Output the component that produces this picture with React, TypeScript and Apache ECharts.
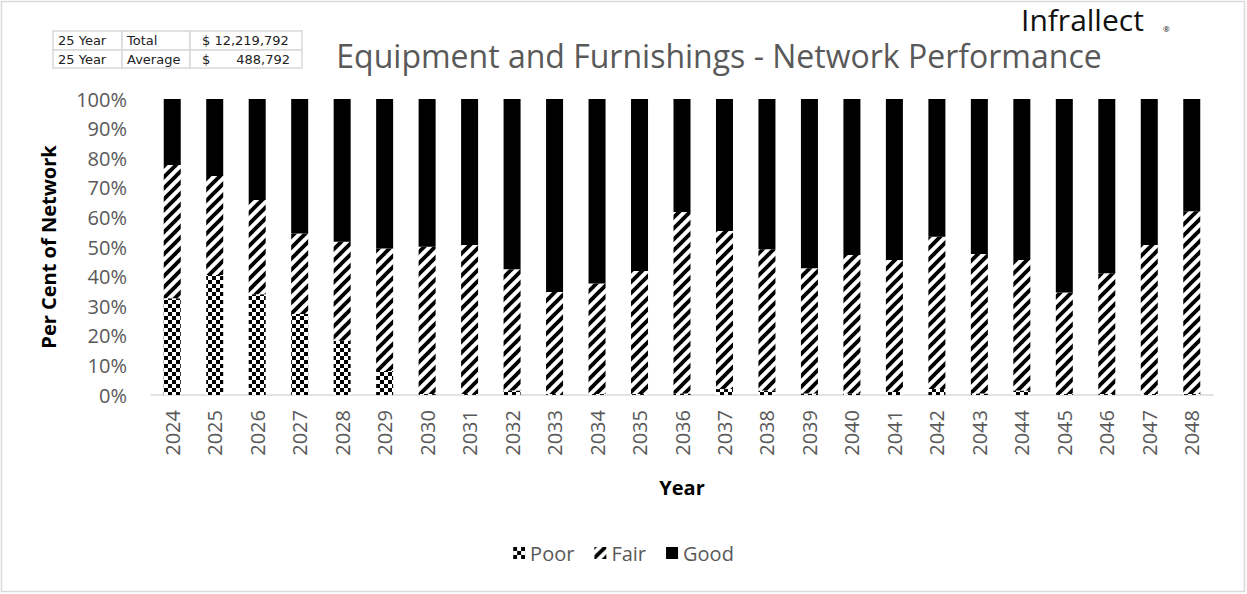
import React, { useEffect, useRef } from "react";
import * as echarts from "echarts";

const years = ["2024","2025","2026","2027","2028","2029","2030","2031","2032","2033","2034","2035","2036","2037","2038","2039","2040","2041","2042","2043","2044","2045","2046","2047","2048"];
const poor = [32.7, 40.5, 34.0, 27.4, 18.3, 8.1, 0.3, 0.3, 1.5, 0.3, 0.3, 0.3, 0.5, 2.0, 1.5, 0.5, 0.5, 1.0, 2.0, 0.5, 1.5, 0.3, 0.3, 0.3, 0.3];
const fair = [45.0, 33.5, 31.9, 27.2, 33.5, 41.4, 49.8, 50.4, 41.0, 34.5, 37.4, 41.6, 61.3, 53.4, 47.7, 42.3, 46.8, 44.6, 51.5, 47.1, 44.1, 34.3, 40.8, 50.4, 61.8];
const good = [22.3, 26.0, 34.1, 45.4, 48.2, 50.5, 49.9, 49.3, 57.5, 65.2, 62.3, 58.1, 38.2, 44.6, 50.8, 57.2, 52.7, 54.4, 46.5, 52.4, 54.4, 65.4, 58.9, 49.3, 37.9];
const yTicks = [0, 10, 20, 30, 40, 50, 60, 70, 80, 90, 100];
const tableRows = [
  ["25 Year", "Total", "$ 12,219,792", ""],
  ["25 Year", "Average", "$", "488,792"],
];

function makeChecker() {
  const c = document.createElement("canvas");
  c.width = 8; c.height = 8;
  const ctx = c.getContext("2d")!;
  ctx.fillStyle = "#fff"; ctx.fillRect(0, 0, 8, 8);
  ctx.fillStyle = "#000";
  ctx.fillRect(0, 0, 4, 4);
  ctx.fillRect(4, 4, 4, 4);
  return c;
}
function makeStripes() {
  const s = 11;
  const c = document.createElement("canvas");
  c.width = s; c.height = s;
  const ctx = c.getContext("2d")!;
  ctx.fillStyle = "#fff"; ctx.fillRect(0, 0, s, s);
  ctx.strokeStyle = "#000"; ctx.lineWidth = 3.8;
  const seg = (x1: number, y1: number, x2: number, y2: number) => { ctx.beginPath(); ctx.moveTo(x1, y1); ctx.lineTo(x2, y2); ctx.stroke(); };
  seg(-1, s + 1, s + 1, -1);
  seg(-s, s, s, -s);
  seg(0, 2 * s, 2 * s, 0);
  return c;
}

export default function App() {
  const ref = useRef<HTMLDivElement>(null);
  useEffect(() => {
    document.body.style.margin = "0";
    const chart = echarts.init(ref.current!, null, { renderer: "svg" });
    const checker = { image: makeChecker() as any, repeat: "repeat" as const };
    const stripes = { image: makeStripes() as any, repeat: "repeat" as const };
    const font = "'Open Sans', 'Noto Sans', sans-serif";
    const tableFont = "'DejaVu Sans', sans-serif";
    const colX = [53, 122, 190, 302];
    const rowY = [31, 50, 68];
    const tableGraphics: any[] = [];
    for (let r = 0; r < 2; r++) {
      for (let c = 0; c < 3; c++) {
        tableGraphics.push({ type: "rect", shape: { x: colX[c], y: rowY[r], width: colX[c + 1] - colX[c], height: rowY[r + 1] - rowY[r] }, style: { fill: "#fff", stroke: "#d9d9d9", lineWidth: 1.5 } });
      }
      const cy = (rowY[r] + rowY[r + 1]) / 2;
      const row = tableRows[r];
      tableGraphics.push({ type: "text", x: colX[0] + 5, y: cy, style: { text: row[0], font: `13px ${tableFont}`, fill: "#222", verticalAlign: "middle" } });
      tableGraphics.push({ type: "text", x: colX[1] + 5, y: cy, style: { text: row[1], font: `13px ${tableFont}`, fill: "#222", verticalAlign: "middle" } });
      tableGraphics.push({ type: "text", x: colX[2] + 12, y: cy, style: { text: row[2], font: `13px ${tableFont}`, fill: "#222", verticalAlign: "middle" } });
      if (row[3]) tableGraphics.push({ type: "text", x: colX[3] - 12, y: cy, style: { text: row[3], font: `13px ${tableFont}`, fill: "#222", verticalAlign: "middle", align: "right" } });
    }
    chart.setOption({
      animation: false,
      backgroundColor: "#fff",
      title: {
        text: "Equipment and Furnishings - Network Performance",
        left: 714, top: 33, textAlign: "center",
        textStyle: { fontFamily: font, fontSize: 32, fontWeight: "normal", color: "#595959", lineHeight: 34 },
      },
      legend: {
        bottom: 26, left: "center",
        itemWidth: 12, itemHeight: 12, itemGap: 20,
        icon: "rect",
        textStyle: { fontFamily: font, fontSize: 20, color: "#595959" },
        data: ["Poor", "Fair", "Good"],
      },
      grid: { left: 151, right: 34, top: 99, bottom: 199, containLabel: false },
      xAxis: {
        type: "category", data: years,
        axisLine: { show: true, lineStyle: { color: "#d9d9d9", width: 1.5 } },
        axisTick: { show: false },
        axisLabel: { rotate: 90, margin: 15, fontFamily: font, fontSize: 20, color: "#595959" },
        name: "Year", nameLocation: "middle", nameGap: 82,
        nameTextStyle: { fontFamily: font, fontSize: 20, fontWeight: "bold", color: "#000" },
      },
      yAxis: {
        type: "value", min: yTicks[0], max: yTicks[yTicks.length - 1], interval: 10,
        axisLine: { show: false }, axisTick: { show: false },
        splitLine: { show: false },
        axisLabel: { formatter: "{value}%", margin: 24, fontFamily: font, fontSize: 20, color: "#595959" },
        name: "Per Cent of Network", nameLocation: "middle", nameGap: 93, nameRotate: 90,
        nameTextStyle: { fontFamily: font, fontSize: 20, fontWeight: "bold", color: "#000" },
      },
      series: [
        { name: "Poor", type: "bar", stack: "a", data: poor, barWidth: 17, itemStyle: { color: checker } },
        { name: "Fair", type: "bar", stack: "a", data: fair, barWidth: 17, itemStyle: { color: stripes } },
        { name: "Good", type: "bar", stack: "a", data: good, barWidth: 17, itemStyle: { color: "#000" } },
      ],
      graphic: [
        { type: "rect", shape: { x: 1.5, y: 1.5, width: 1243, height: 590 }, style: { fill: "none", stroke: "#d9d9d9", lineWidth: 1.5 }, silent: true },
        ...tableGraphics,
        { type: "text", x: 1021, y: 19, style: { text: "Infrallect", font: `30px ${font}`, fill: "#111", verticalAlign: "middle", lineHeight: 26 } },
        { type: "text", x: 1163, y: 28, style: { text: "®", font: `8px ${font}`, fill: "#111", verticalAlign: "middle" } },
      ],
    });
    return () => chart.dispose();
  }, []);
  return <div ref={ref} style={{ position: "absolute", left: 0, top: 0, width: 1247, height: 594 }} />;
}
